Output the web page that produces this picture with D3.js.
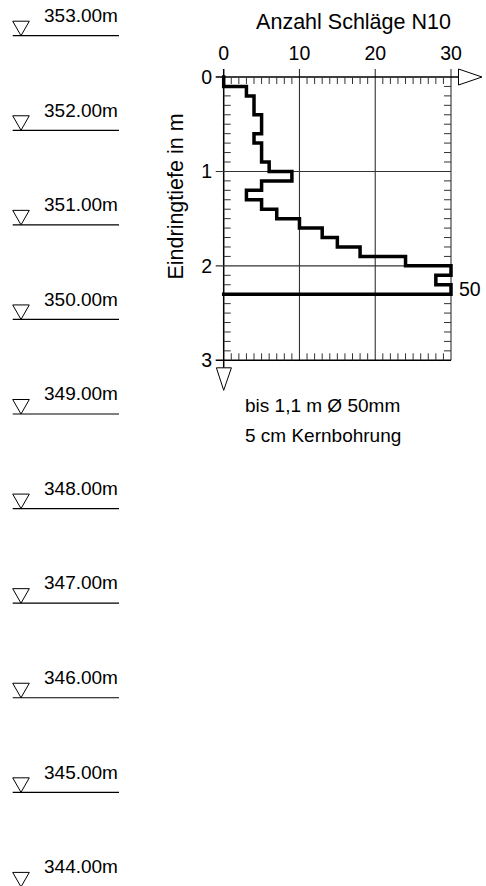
<!DOCTYPE html>
<html>
<head>
<meta charset="utf-8">
<script src="https://cdn.jsdelivr.net/npm/d3@7"></script>
<style>
  html, body { margin: 0; padding: 0; background: #fff; }
  svg { display: block; font-family: "Liberation Sans", Arial, sans-serif; }
</style>
</head>
<body>
<svg id="chart" width="486" height="886"></svg>
<script>
// ---- data ----
const title = "Anzahl Schläge N10";
const yTitle = "Eindringtiefe in m";
const blowTicks = [0, 10, 20, 30];
const depthTicks = [0, 1, 2, 3];
const depthTop = [0.0, 0.1, 0.2, 0.3, 0.4, 0.5, 0.6, 0.7, 0.8, 0.9, 1.0, 1.1, 1.2, 1.3, 1.4, 1.5, 1.6, 1.7, 1.8, 1.9, 2.0, 2.1, 2.2];
const blows    = [0,   3,   4,   4,   5,   5,   4,   5,   5,   6,   9,   5,   3,   5,   7,   10,  13,  15,  18,  24,  30,  28,  50];
const stepSize = 0.1;
const finalDepth = 2.3;
const elevations = [353, 352, 351, 350, 349, 348, 347, 346, 345, 344];
const notes = ["bis 1,1 m Ø 50mm", "5 cm Kernbohrung"];

// ---- scales ----
const svg = d3.select("#chart");
const x = d3.scaleLinear().domain([0, 30]).range([223.7, 451]);
const y = d3.scaleLinear().domain([0, 3]).range([77, 360.3]);
const ey = d3.scaleLinear().domain([353, 344]).range([35.7, 886.9]);

const ink = "#000";
const grid = "#333";

// ---- elevation markers (left) ----
const em = svg.append("g");
elevations.forEach(e => {
  const yy = ey(e);
  em.append("line").attr("x1", 12.7).attr("x2", 119).attr("y1", yy).attr("y2", yy)
    .attr("stroke", ink).attr("stroke-width", 1.2);
  em.append("path")
    .attr("d", `M12.7,${yy - 14.5}L29.3,${yy - 14.5}L21,${yy}Z`)
    .attr("fill", "none").attr("stroke", ink).attr("stroke-width", 1);
  em.append("text").attr("x", 44).attr("y", yy - 13.7)
    .attr("font-size", 19).attr("fill", ink).text(d3.format(".2f")(e) + "m");
});

// ---- grid ----
const g = svg.append("g");
// vertical grid lines (major) extend above top axis
blowTicks.forEach(t => {
  g.append("line").attr("x1", x(t)).attr("x2", x(t)).attr("y1", y(0) - 8).attr("y2", y(3))
    .attr("stroke", t === 0 ? ink : grid).attr("stroke-width", t === 0 ? 1.5 : 1.1);
});
// horizontal grid lines at major depths, extend left of axis
depthTicks.forEach(t => {
  g.append("line").attr("x1", x(0) - 8).attr("x2", x(30)).attr("y1", y(t)).attr("y2", y(t))
    .attr("stroke", (t === 0 || t === 3) ? ink : grid).attr("stroke-width", (t === 0 || t === 3) ? 1.5 : 1.1);
});
// top axis extension to arrow
g.append("line").attr("x1", x(30)).attr("x2", x(30) + 8).attr("y1", y(0)).attr("y2", y(0))
  .attr("stroke", ink).attr("stroke-width", 1.5);
g.append("path")
  .attr("d", `M${x(30) + 7.5},${y(0) - 8}L${x(30) + 31},${y(0)}L${x(30) + 7.5},${y(0) + 8}Z`)
  .attr("fill", "#fff").attr("stroke", ink).attr("stroke-width", 1);
// bottom-left arrow
g.append("line").attr("x1", x(0)).attr("x2", x(0)).attr("y1", y(3)).attr("y2", y(3) + 7.5)
  .attr("stroke", ink).attr("stroke-width", 1.5);
g.append("path")
  .attr("d", `M${x(0) - 7.3},${y(3) + 7.5}L${x(0) + 7.7},${y(3) + 7.5}L${x(0)},${y(3) + 30}Z`)
  .attr("fill", "#fff").attr("stroke", ink).attr("stroke-width", 1);

// minor ticks along top/bottom (every 1 blow)
const minorX = d3.range(1, 30).filter(v => v % 10 !== 0);
minorX.forEach(v => {
  g.append("line").attr("x1", x(v)).attr("x2", x(v)).attr("y1", y(0)).attr("y2", y(0) + 7)
    .attr("stroke", grid).attr("stroke-width", 1);
  g.append("line").attr("x1", x(v)).attr("x2", x(v)).attr("y1", y(3)).attr("y2", y(3) - 7)
    .attr("stroke", grid).attr("stroke-width", 1);
});
// minor ticks along left/right (every 0.1 m)
const minorY = d3.range(1, 30).filter(v => v % 10 !== 0).map(v => v / 10);
minorY.forEach(v => {
  g.append("line").attr("x1", x(0)).attr("x2", x(0) + 7).attr("y1", y(v)).attr("y2", y(v))
    .attr("stroke", grid).attr("stroke-width", 1);
  g.append("line").attr("x1", x(30)).attr("x2", x(30) - 7).attr("y1", y(v)).attr("y2", y(v))
    .attr("stroke", grid).attr("stroke-width", 1);
});

// ---- tick labels ----
blowTicks.forEach(t => {
  svg.append("text").attr("x", x(t)).attr("y", 60).attr("text-anchor", "middle")
    .attr("font-size", 19.5).attr("fill", ink).text(t);
});
depthTicks.forEach(t => {
  svg.append("text").attr("x", 212).attr("y", y(t) + 7).attr("text-anchor", "end")
    .attr("font-size", 19.5).attr("fill", ink).text(t);
});

// titles
svg.append("text").attr("x", 353.5).attr("y", 29).attr("text-anchor", "middle")
  .attr("font-size", 21.5).attr("fill", ink).text(title);
svg.append("text").attr("transform", "translate(183,196.5) rotate(-90)").attr("text-anchor", "middle")
  .attr("font-size", 21.5).attr("fill", ink).text(yTitle);

// ---- step line ----
const cap = v => Math.min(v, 30);
const pts = [[x(0), y(0)]];
depthTop.forEach((d, i) => {
  pts.push([x(cap(blows[i])), y(d)]);
  pts.push([x(cap(blows[i])), y(d + stepSize)]);
});
pts.push([x(0), y(finalDepth)]);
svg.append("path").attr("d", d3.line()(pts))
  .attr("fill", "none").attr("stroke", ink).attr("stroke-width", 3.5)
  .attr("stroke-linejoin", "miter").attr("stroke-linecap", "square");

// over-range labels
depthTop.forEach((d, i) => {
  if (blows[i] > 30) {
    svg.append("text").attr("x", x(30) + 8).attr("y", y(d + stepSize / 2) + 7)
      .attr("font-size", 19.5).attr("fill", ink).text(blows[i]);
  }
});

// notes
notes.forEach((n, i) => {
  svg.append("text").attr("x", 245).attr("y", 411.7 + i * 30)
    .attr("font-size", 19).attr("fill", ink).text(n);
});
</script>
</body>
</html>
